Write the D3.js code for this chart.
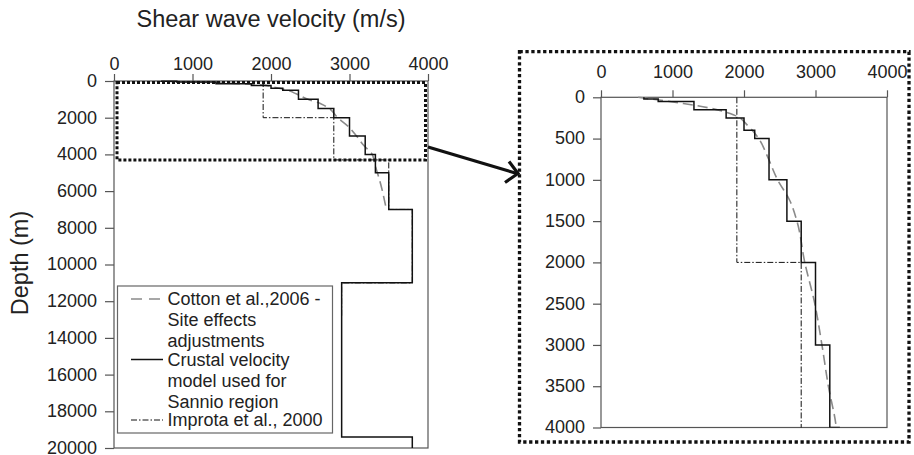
<!DOCTYPE html>
<html>
<head>
<meta charset="utf-8">
<script src="https://cdn.jsdelivr.net/npm/d3@7"></script>
<style>
  body { margin: 0; background: #fff; }
  svg { display: block; font-family: "Liberation Sans", Arial, Helvetica, sans-serif; }
  .tick text { fill: #222; }
</style>
</head>
<body>
<svg id="chart" width="914" height="455"></svg>
<script>
// crustal velocity model used for Sannio (layer tops in m, Vs in m/s)
const modelTop = [0, 20, 50, 150, 250, 400, 500, 1000, 1500, 2000, 3000, 4000, 5000, 7000, 11000, 19400];
const modelVs  = [600, 800, 1300, 1750, 2000, 2150, 2350, 2600, 2800, 3000, 3200, 3330, 3500, 3800, 2900, 3800];
const modelBase = 20000;

// Improta et al., 2000
const improtaTop = [0, 2000, 4300, 7000, 11000];
const improtaVs  = [1900, 2800, 3500, 3800, 2900];
const improtaBase = 12800;

// Cotton et al., 2006 - site effects adjustments (smooth curve)
const cottonDepth = [0, 75, 130, 210, 350, 520, 700, 1000, 1250, 1500, 2000, 2500, 3000, 3500, 4000, 4500, 5500, 7000];
const cottonVs    = [520, 1150, 1520, 1850, 2060, 2220, 2320, 2470, 2640, 2740, 2850, 2990, 3090, 3180, 3290, 3320, 3390, 3470];

const velTicks = [0, 1000, 2000, 3000, 4000];
const depthTicksMain = [0, 2000, 4000, 6000, 8000, 10000, 12000, 14000, 16000, 18000, 20000];
const depthTicksZoom = [0, 500, 1000, 1500, 2000, 2500, 3000, 3500, 4000];

const legendLines = [
  ["Cotton et al.,2006 -", "Site effects", "adjustments"],
  ["Crustal velocity", "model used for", "Sannio region"],
  ["Improta et al., 2000"]
];

const svg = d3.select("#chart");

function steps(tops, vs, base) {
  let pts = [];
  for (let i = 0; i < tops.length; i++) {
    let bottom = i < tops.length - 1 ? tops[i + 1] : base;
    pts.push([vs[i], tops[i]]);
    pts.push([vs[i], bottom]);
  }
  return pts;
}

const cottonPts = cottonDepth.map((d, i) => [cottonVs[i], d]);
const modelPts = steps(modelTop, modelVs, modelBase);
const improtaPts = steps(improtaTop, improtaVs, improtaBase);

const styles = {
  cotton:  {stroke: "#8a8a8a", width: 1.6, dash: "10,5"},
  model:   {stroke: "#111", width: 1.5, dash: null},
  improta: {stroke: "#111", width: 1, dash: "6,2,1.5,2"}
};

const fmt = d3.format("d");

function drawPanel(g, x, y, depthTicks, id, xAxisOpt, yAxisOpt) {
  let x0 = x.range()[0], x1 = x.range()[1];
  let y0 = y.range()[0], y1 = y.range()[1];

  g.append("clipPath").attr("id", id)
    .append("rect").attr("x", x0).attr("y", y0 - 2).attr("width", x1 - x0).attr("height", y1 - y0 + 2);

  // box
  g.append("rect")
    .attr("x", x0).attr("y", y0)
    .attr("width", x1 - x0).attr("height", y1 - y0)
    .attr("fill", "none").attr("stroke", "#555").attr("stroke-width", 1.2);

  let xa = g.append("g")
    .attr("transform", "translate(0," + y0 + ")")
    .call(d3.axisTop(x).tickValues(velTicks).tickFormat(fmt)
      .tickSize(xAxisOpt.size).tickPadding(xAxisOpt.pad).tickSizeOuter(0))
    .attr("font-size", 18).attr("font-family", null);
  xa.select(".domain").remove();
  xa.selectAll("line").attr("stroke", "#555").attr("stroke-width", 1.2);

  let ya = g.append("g")
    .attr("transform", "translate(" + x0 + ",0)")
    .call(d3.axisLeft(y).tickValues(depthTicks).tickFormat(fmt)
      .tickSize(yAxisOpt.size).tickPadding(yAxisOpt.pad).tickSizeOuter(0))
    .attr("font-size", 18).attr("font-family", null);
  ya.select(".domain").remove();
  ya.selectAll("line").attr("stroke", "#555").attr("stroke-width", 1.2);
  ya.selectAll("text").attr("dy", "0.3em");

  let stepLine = d3.line().x(d => x(d[0])).y(d => y(d[1]));
  let curveLine = d3.line().x(d => x(d[0])).y(d => y(d[1])).curve(d3.curveMonotoneY);

  let lines = g.append("g").attr("clip-path", "url(#" + id + ")");
  [["cotton", cottonPts, curveLine], ["improta", improtaPts, stepLine], ["model", modelPts, stepLine]]
    .forEach(function(s) {
      let st = styles[s[0]];
      lines.append("path")
        .attr("d", s[2](s[1]))
        .attr("fill", "none")
        .attr("stroke", st.stroke)
        .attr("stroke-width", st.width)
        .attr("stroke-dasharray", st.dash);
    });
}

// main panel
const xL = d3.scaleLinear().domain([0, 4000]).range([114, 428]);
const yL = d3.scaleLinear().domain([0, 20000]).range([81, 448]);
const gL = svg.append("g");
drawPanel(gL, xL, yL, depthTicksMain, "clipL", {size: 7, pad: 4}, {size: 9, pad: 8});

// zoomed panel
const xR = d3.scaleLinear().domain([0, 4000]).range([601, 887]);
const yR = d3.scaleLinear().domain([0, 4000]).range([97.3, 427.5]);
const gR = svg.append("g");
drawPanel(gR, xR, yR, depthTicksZoom, "clipR", {size: 7, pad: 12}, {size: 8, pad: 8});

// axis titles
svg.append("text")
  .attr("x", 271).attr("y", 27)
  .attr("text-anchor", "middle")
  .attr("font-size", 23.5).attr("fill", "#222")
  .text("Shear wave velocity (m/s)");

svg.append("text")
  .attr("transform", "translate(28,263) rotate(-90)")
  .attr("text-anchor", "middle")
  .attr("font-size", 23.5).attr("fill", "#222")
  .text("Depth (m)");

// dotted zoom box on the main panel
svg.append("rect")
  .attr("x", xL(0) + 3).attr("y", yL(0) + 1.5)
  .attr("width", xL(4000) - xL(0) - 5.5).attr("height", yL(4300) - yL(0) - 1.5)
  .attr("fill", "none").attr("stroke", "#111")
  .attr("stroke-width", 3).attr("stroke-dasharray", "3,2");

// dotted frame round the zoomed panel
svg.append("rect")
  .attr("x", 519.5).attr("y", 51.7).attr("width", 389.5).attr("height", 390.3)
  .attr("fill", "none").attr("stroke", "#111")
  .attr("stroke-width", 3.3).attr("stroke-dasharray", "3.3,2.6");

// arrow
svg.append("line")
  .attr("x1", 428).attr("y1", 147).attr("x2", 517).attr("y2", 173.5)
  .attr("stroke", "#111").attr("stroke-width", 3.2);
svg.append("path")
  .attr("d", "M509,161.5 L518,173.5 L505,182.5")
  .attr("fill", "none").attr("stroke", "#111").attr("stroke-width", 3.2);

// legend
const leg = svg.append("g");
leg.append("rect")
  .attr("x", 117.5).attr("y", 286).attr("width", 215).attr("height", 147)
  .attr("fill", "#fff").attr("stroke", "#666").attr("stroke-width", 1.2);

const legKeys = ["cotton", "model", "improta"];
const legBase = [305, 365.5, 426];
legKeys.forEach(function(k, i) {
  let st = styles[k];
  leg.append("line")
    .attr("x1", 131).attr("x2", 163)
    .attr("y1", legBase[i] - 6).attr("y2", legBase[i] - 6)
    .attr("stroke", st.stroke).attr("stroke-width", st.width)
    .attr("stroke-dasharray", k == "cotton" ? "11,7" : st.dash);
  legendLines[i].forEach(function(t, j) {
    leg.append("text")
      .attr("x", 167.5).attr("y", legBase[i] + j * 21)
      .attr("font-size", 18).attr("fill", "#222")
      .text(t);
  });
});
</script>
</body>
</html>
